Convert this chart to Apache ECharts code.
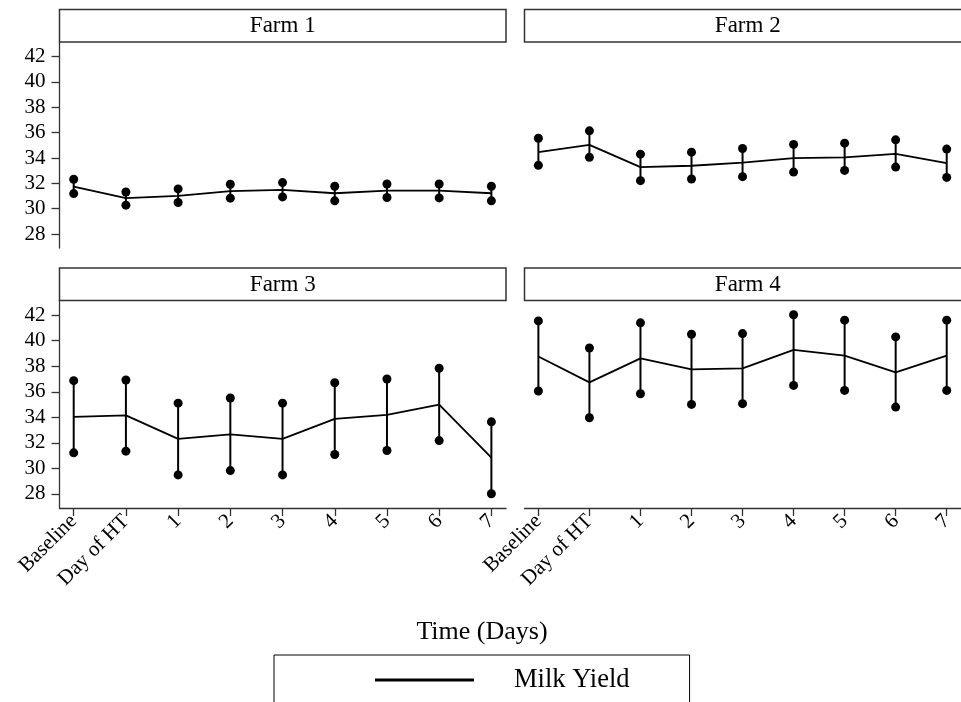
<!DOCTYPE html>
<html>
<head>
<meta charset="utf-8">
<script src="https://cdn.jsdelivr.net/npm/echarts@6/dist/echarts.min.js"></script>
<style>
html,body{margin:0;padding:0;background:#fff;}
#chart{width:961px;height:702px;}
</style>
</head>
<body>
<div id="chart"></div>
<script>
const timeLabels = ['Baseline','Day of HT','1','2','3','4','5','6','7'];
const farmNames = ['Farm 1','Farm 2','Farm 3','Farm 4'];
const yTicks = [28,30,32,34,36,38,40,42];

const farm1Mean  = [31.74,30.83,31.01,31.38,31.48,31.22,31.43,31.43,31.22];
const farm1Lower = [31.19,30.28,30.49,30.83,30.93,30.62,30.88,30.85,30.62];
const farm1Upper = [32.32,31.32,31.56,31.93,32.06,31.77,31.95,31.95,31.77];

const farm2Mean  = [34.46,35.04,33.28,33.39,33.63,33.99,34.05,34.33,33.60];
const farm2Lower = [33.42,34.05,32.21,32.34,32.53,32.89,33.02,33.28,32.47];
const farm2Upper = [35.56,36.14,34.30,34.46,34.75,35.07,35.17,35.43,34.70];

const farm3Mean  = [34.04,34.15,32.31,32.66,32.31,33.88,34.20,34.99,30.85];
const farm3Lower = [31.22,31.35,29.49,29.83,29.49,31.09,31.40,32.18,28.02];
const farm3Upper = [36.87,36.92,35.11,35.51,35.11,36.71,37.00,37.84,33.65];

const farm4Mean  = [38.76,36.74,38.62,37.76,37.84,39.28,38.83,37.52,38.83];
const farm4Lower = [36.06,33.97,35.85,35.01,35.07,36.50,36.11,34.80,36.11];
const farm4Upper = [41.55,39.43,41.40,40.51,40.56,42.03,41.61,40.30,41.61];

const farms = [
  {mean: farm1Mean, lower: farm1Lower, upper: farm1Upper},
  {mean: farm2Mean, lower: farm2Lower, upper: farm2Upper},
  {mean: farm3Mean, lower: farm3Lower, upper: farm3Upper},
  {mean: farm4Mean, lower: farm4Lower, upper: farm4Upper}
];

const FONT = '"Liberation Serif", "Times New Roman", serif';
const Y_MIN = 26.9, Y_MAX = 43.15;
const X_MIN = -0.272, X_MAX = 8.28;

const gridDefs = [
  {left: 59.5, top: 42, width: 446.5, height: 206},
  {left: 524.5, top: 42, width: 446.5, height: 206},
  {left: 59.5, top: 300.5, width: 446.5, height: 207.5},
  {left: 524.5, top: 300.5, width: 446.5, height: 207.5}
];

const axisLineStyle = {color: '#333', width: 1.3};
const xTickValues = timeLabels.map((_, i) => i);

const grids = gridDefs.map(g => Object.assign({containLabel: false}, g));

const xAxes = gridDefs.map((g, k) => ({
  type: 'value', gridIndex: k, min: X_MIN, max: X_MAX,
  show: k >= 2,
  splitLine: {show: false},
  axisLine: {show: true, onZero: false, lineStyle: axisLineStyle},
  axisTick: {show: true, length: 8, lineStyle: axisLineStyle, customValues: xTickValues},
  axisLabel: {
    show: true, customValues: xTickValues, rotate: 45, margin: 10,
    fontFamily: FONT, fontSize: 21, color: '#000',
    formatter: v => timeLabels[Math.round(v)]
  }
}));

const yAxes = gridDefs.map((g, k) => ({
  type: 'value', gridIndex: k, min: Y_MIN, max: Y_MAX,
  show: k === 0 || k === 2,
  splitLine: {show: false},
  axisLine: {show: true, onZero: false, lineStyle: axisLineStyle},
  axisTick: {show: true, length: 8, lineStyle: axisLineStyle, customValues: yTicks},
  axisLabel: {show: true, customValues: yTicks, margin: 14, fontFamily: FONT, fontSize: 21, color: '#000'}
}));

const series = [];
farms.forEach((f, k) => {
  series.push({
    type: 'custom', name: 'CI ' + (k + 1), xAxisIndex: k, yAxisIndex: k,
    encode: {x: 0, y: [1, 2]},
    data: f.lower.map((lo, i) => [i, lo, f.upper[i]]),
    renderItem: (params, api) => {
      const x = api.value(0);
      const p1 = api.coord([x, api.value(1)]);
      const p2 = api.coord([x, api.value(2)]);
      return {type: 'line', shape: {x1: p1[0], y1: p1[1], x2: p2[0], y2: p2[1]},
              style: {stroke: '#000', lineWidth: 2}};
    },
    z: 2
  });
  series.push({
    type: 'line', name: 'Milk Yield', xAxisIndex: k, yAxisIndex: k,
    data: f.mean.map((m, i) => [i, m]),
    symbol: 'none', lineStyle: {color: '#000', width: 1.8}, itemStyle: {color: '#000'},
    z: 3
  });
  series.push({
    type: 'scatter', name: 'Lower ' + (k + 1), xAxisIndex: k, yAxisIndex: k,
    data: f.lower.map((v, i) => [i, v]),
    symbol: 'circle', symbolSize: 9, itemStyle: {color: '#000', opacity: 1}, z: 4
  });
  series.push({
    type: 'scatter', name: 'Upper ' + (k + 1), xAxisIndex: k, yAxisIndex: k,
    data: f.upper.map((v, i) => [i, v]),
    symbol: 'circle', symbolSize: 9, itemStyle: {color: '#000', opacity: 1}, z: 4
  });
});

const stripDefs = [
  {x: 59.5, y: 9.5, w: 446.5, h: 32.5},
  {x: 524.5, y: 9.5, w: 446.5, h: 32.5},
  {x: 59.5, y: 268, w: 446.5, h: 32.5},
  {x: 524.5, y: 268, w: 446.5, h: 32.5}
];
const graphics = [];
stripDefs.forEach((s, k) => {
  graphics.push({type: 'rect', shape: {x: s.x, y: s.y, width: s.w, height: s.h},
    style: {fill: '#fff', stroke: '#333', lineWidth: 1.5}, z: 10});
  graphics.push({type: 'text', x: s.x + s.w / 2, y: s.y + s.h / 2 + 0.5, z: 11,
    style: {text: farmNames[k], fontFamily: FONT, fontSize: 23, fill: '#000', align: 'center', verticalAlign: 'middle'}});
});
graphics.push({type: 'text', x: 482, y: 632, z: 11,
  style: {text: 'Time (Days)', fontFamily: FONT, fontSize: 26, fill: '#000', align: 'center', verticalAlign: 'middle'}});

const chart = echarts.init(document.getElementById('chart'), null, {renderer: 'canvas'});
chart.setOption({
  animation: false,
  backgroundColor: '#fff',
  grid: grids,
  xAxis: xAxes,
  yAxis: yAxes,
  series: series,
  graphic: graphics,
  legend: {
    data: [{name: 'Milk Yield', icon: 'rect'}],
    left: 274, top: 655,
    padding: [10, 60, 40, 101],
    borderColor: '#000', borderWidth: 1,
    itemWidth: 99, itemHeight: 3,
    itemStyle: {color: '#000', borderWidth: 0},
    textStyle: {fontFamily: FONT, fontSize: 26.5, lineHeight: 30, color: '#000', padding: [0, 0, 0, 35]},
    selectedMode: false
  }
});
</script>
</body>
</html>
